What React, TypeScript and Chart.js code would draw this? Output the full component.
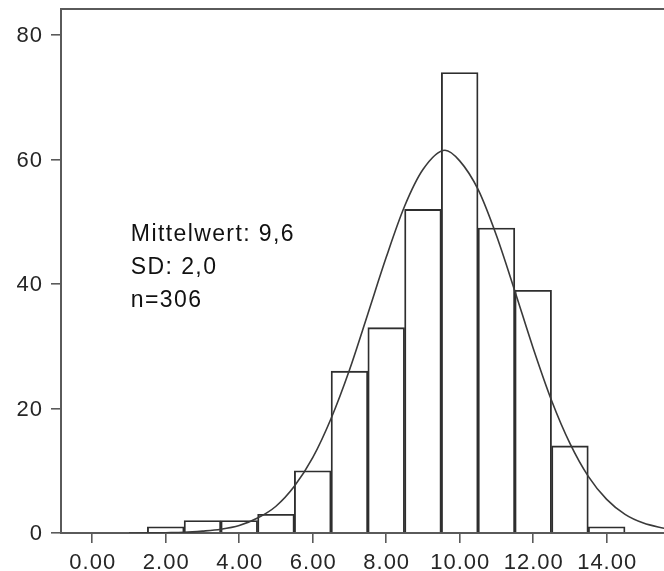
import React, { useEffect, useRef } from "react";
import { Chart, registerables } from "chart.js";

Chart.register(...registerables);

// Histogram bins (class centers) and counts
const binCenters = [2, 3, 4, 5, 6, 7, 8, 9, 10, 11, 12, 13, 14];
const binCounts = [1, 2, 2, 3, 10, 26, 33, 52, 74, 49, 39, 14, 1];

// Normal curve
const curveX = [1.0, 1.5, 2, 2.5, 3, 3.5, 4, 4.5, 5, 5.5, 6, 6.5, 7, 7.5, 8, 8.5, 9, 9.6, 10, 10.5, 11, 11.5, 12, 12.5, 13, 13.5, 14, 14.5, 15, 15.6];
const curveY = [0.0, 0.02, 0.05, 0.1, 0.3, 0.6, 1.2, 2.4, 4.3, 7.5, 12.1, 18.4, 26.2, 35.2, 44.3, 52.5, 58.4, 61.5, 59.8, 55.2, 47.8, 38.9, 29.7, 21.3, 14.4, 9.1, 5.4, 3.0, 1.6, 0.7];

// Axis ticks
const xTicks = [0, 2, 4, 6, 8, 10, 12, 14];
const yTicks = [0, 20, 40, 60, 80];

const statsLines = ["Mittelwert: 9,6", "SD: 2,0", "n=306"];

const AXIS_COLOR = "#5a5a5a";
const MARK_COLOR = "#2e2e2e";
const FONT = "'Liberation Sans', Arial, Helvetica, sans-serif";

function drawText(ctx: CanvasRenderingContext2D, text: string, x: number, y: number, align: "left" | "right" | "center") {
  ctx.textAlign = align;
  ctx.fillText(text, x, y);
}

const customPlugin = {
  id: "customDecor",
  afterDraw(chart: any) {
    const ctx = chart.ctx as CanvasRenderingContext2D;
    const area = chart.chartArea;
    const xs = chart.scales.x;
    const ys = chart.scales.y;
    ctx.save();
    // top border
    ctx.strokeStyle = AXIS_COLOR;
    ctx.lineWidth = 2;
    ctx.beginPath();
    ctx.moveTo(area.left - 1, area.top);
    ctx.lineTo(area.right, area.top);
    ctx.stroke();

    // y tick labels
    ctx.fillStyle = "#262626";
    ctx.font = `22px ${FONT}`;
    (ctx as any).letterSpacing = "1px";
    ctx.textBaseline = "middle";
    yTicks.forEach((v) => {
      drawText(ctx, String(v), area.left - 18, ys.getPixelForValue(v) + 1, "right");
    });
    // x tick labels
    ctx.textBaseline = "alphabetic";
    xTicks.forEach((v) => {
      drawText(ctx, v.toFixed(2), xs.getPixelForValue(v) + 0.5, area.bottom + 36, "center");
    });

    // stats annotation
    ctx.fillStyle = "#111111";
    ctx.font = `23px ${FONT}`;
    (ctx as any).letterSpacing = "1.4px";
    statsLines.forEach((s, i) => {
      drawText(ctx, s, xs.getPixelForValue(1.05), ys.getPixelForValue(46.9) + i * 33, "left");
    });
    (ctx as any).letterSpacing = "0px";
    ctx.restore();
  },
};

export default function App() {
  const ref = useRef<HTMLCanvasElement | null>(null);
  useEffect(() => {
    if (!ref.current) return;
    const chart = new Chart(ref.current, {
      type: "bar",
      data: {
        datasets: [
          {
            type: "line",
            data: curveX.map((x, i) => ({ x, y: curveY[i] })),
            borderColor: "#3a3a3a",
            borderWidth: 1.6,
            pointRadius: 0,
            cubicInterpolationMode: "monotone",
            fill: false,
          } as any,
          {
            type: "bar",
            data: binCenters.map((x, i) => ({ x, y: binCounts[i] })),
            backgroundColor: "rgba(255,255,255,0)",
            borderColor: MARK_COLOR,
            borderWidth: 1.2,
            barPercentage: 1,
            categoryPercentage: 1,
          } as any,
        ],
      },
      options: {
        animation: false,
        responsive: true,
        maintainAspectRatio: false,
        layout: { padding: { top: 9, left: 0, right: 0, bottom: 0 } },
        plugins: { legend: { display: false }, tooltip: { enabled: false } },
        scales: {
          x: {
            type: "linear",
            offset: false,
            min: -0.85,
            max: 15.56,
            afterFit: (s: any) => {
              s.height = 38;
            },
            afterBuildTicks: (s: any) => {
              s.ticks = xTicks.map((v) => ({ value: v }));
            },
            ticks: { display: false },
            grid: {
              display: true,
              offset: false,
              drawOnChartArea: false,
              drawTicks: true,
              tickLength: 10,
              color: AXIS_COLOR,
              lineWidth: 1.6,
            },
            border: { display: true, color: AXIS_COLOR, width: 2 },
          },
          y: {
            type: "linear",
            min: 0,
            max: 84.2,
            afterFit: (s: any) => {
              s.width = 61;
            },
            afterBuildTicks: (s: any) => {
              s.ticks = yTicks.map((v) => ({ value: v }));
            },
            ticks: { display: false },
            grid: {
              display: true,
              drawOnChartArea: false,
              drawTicks: true,
              tickLength: 10,
              color: AXIS_COLOR,
              lineWidth: 1.6,
            },
            border: { display: true, color: AXIS_COLOR, width: 2 },
          },
        },
      },
      plugins: [customPlugin],
    } as any);
    return () => chart.destroy();
  }, []);
  return (
    <div style={{ position: "fixed", left: 0, top: 0, width: 664, height: 571, background: "#fff" }}>
      <canvas ref={ref} />
    </div>
  );
}
